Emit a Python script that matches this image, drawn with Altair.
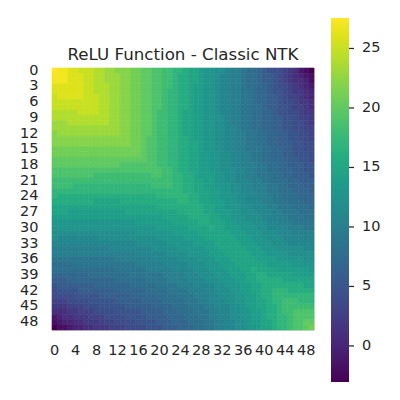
import altair as alt
import pandas as pd

# Upper triangle of the symmetric 50x50 kernel matrix.
# r_i lists the values of row i from column i to column 49.
r00 = [28,27,27,26,26,25,25,25,24,24,23,23,22,22,22,21,21,20,20,19,19,18,18,17,17,16,15,15,14,13,13,12,12,11,10,10,9,8,8,7,6,5,4,4,3,2,1,-1,-2,-3]
r01 = [27,27,26,26,26,25,25,24,24,23,23,23,22,22,21,21,20,20,19,19,18,18,17,16,16,15,15,14,13,13,12,11,11,10,10,9,8,8,7,6,6,5,4,3,2,1,0,-1,-2]
r02 = [27,26,26,26,25,25,24,24,23,23,23,22,22,21,21,20,20,19,19,18,18,17,16,16,15,15,14,13,13,12,11,11,10,10,9,8,8,7,6,6,5,4,3,2,1,1,0,-2]
r03 = [26,26,26,25,25,24,24,24,23,23,22,22,21,21,20,20,19,19,18,18,17,16,16,15,14,14,13,13,12,11,11,10,10,9,8,8,7,7,6,5,4,4,3,2,1,0,-1]
r04 = [26,26,25,25,24,24,24,23,23,22,22,21,21,20,20,19,19,18,17,17,16,16,15,14,14,13,13,12,11,11,10,10,9,9,8,7,7,6,5,5,4,3,2,2,1,0]
r05 = [26,25,25,25,24,24,23,23,22,22,21,21,20,20,19,19,18,17,17,16,16,15,14,14,13,13,12,11,11,10,10,9,9,8,7,7,6,6,5,4,3,3,2,1,0]
r06 = [25,25,25,24,24,23,23,22,22,21,21,20,20,19,19,18,17,17,16,16,15,14,14,13,13,12,11,11,10,10,9,9,8,7,7,6,6,5,4,4,3,2,2,1]
r07 = [25,25,24,24,23,23,22,22,21,21,20,20,19,19,18,17,17,16,16,15,14,14,13,13,12,11,11,10,10,9,9,8,8,7,6,6,5,5,4,3,3,2,1]
r08 = [25,24,24,23,23,22,22,21,21,20,20,19,18,18,17,17,16,15,15,14,14,13,13,12,11,11,10,10,9,9,8,8,7,7,6,5,5,4,4,3,2,2]
r09 = [24,24,23,23,22,22,21,21,20,20,19,18,18,17,17,16,15,15,14,14,13,13,12,12,11,10,10,9,9,8,8,7,7,6,6,5,5,4,3,3,2]
r10 = [24,23,23,22,22,21,21,20,20,19,18,18,17,17,16,15,15,14,14,13,13,12,12,11,10,10,9,9,8,8,7,7,6,6,5,5,4,4,3,2]
r11 = [23,23,22,22,21,21,20,20,19,18,18,17,17,16,15,15,14,14,13,13,12,12,11,11,10,9,9,8,8,7,7,6,6,5,5,4,4,3,3]
r12 = [23,22,22,21,21,20,20,19,18,18,17,17,16,15,15,14,14,13,13,12,12,11,11,10,10,9,9,8,8,7,7,6,6,5,5,4,4,3]
r13 = [22,22,21,21,20,19,19,18,18,17,17,16,16,15,14,14,13,13,12,12,11,11,10,10,9,9,8,8,7,7,6,6,5,5,4,4,3]
r14 = [22,21,21,20,19,19,18,18,17,17,16,16,15,15,14,13,13,12,12,11,11,10,10,9,9,8,8,7,7,6,6,6,5,5,4,4]
r15 = [21,21,20,19,19,18,18,17,17,16,16,15,15,14,13,13,12,12,11,11,10,10,9,9,9,8,8,7,7,6,6,5,5,4,4]
r16 = [21,20,19,19,18,18,17,17,16,16,15,15,14,14,13,13,12,12,11,11,10,10,9,9,8,8,7,7,6,6,5,5,5,4]
r17 = [20,19,19,18,18,17,17,16,16,15,15,14,14,13,13,12,12,11,11,10,10,9,9,8,8,7,7,7,6,6,5,5,4]
r18 = [19,19,18,18,17,17,16,16,15,15,14,14,13,13,12,12,11,11,10,10,10,9,9,8,8,7,7,6,6,6,5,5]
r19 = [19,19,18,18,17,16,16,15,15,14,14,13,13,12,12,12,11,11,10,10,9,9,8,8,7,7,7,6,6,5,5]
r20 = [19,18,18,17,17,16,16,15,14,14,14,13,13,12,12,11,11,10,10,9,9,9,8,8,7,7,6,6,6,5]
r21 = [18,18,17,17,16,16,15,15,14,14,13,13,12,12,11,11,11,10,10,9,9,8,8,8,7,7,6,6,6]
r22 = [18,17,17,16,16,15,15,14,14,13,13,13,12,12,11,11,10,10,10,9,9,8,8,7,7,7,6,6]
r23 = [17,17,16,16,15,15,15,14,14,13,13,12,12,11,11,11,10,10,9,9,8,8,8,7,7,7,6]
r24 = [17,17,16,16,15,15,14,14,13,13,13,12,12,11,11,10,10,10,9,9,8,8,8,7,7,7]
r25 = [17,16,16,15,15,14,14,14,13,13,12,12,11,11,11,10,10,9,9,9,8,8,8,7,7]
r26 = [16,16,16,15,15,14,14,13,13,13,12,12,11,11,11,10,10,9,9,9,8,8,8,7]
r27 = [16,16,15,15,14,14,14,13,13,12,12,12,11,11,11,10,10,9,9,9,8,8,8]
r28 = [16,16,15,15,14,14,13,13,13,12,12,12,11,11,10,10,10,9,9,9,8,8]
r29 = [16,15,15,15,14,14,13,13,13,12,12,12,11,11,10,10,10,9,9,9,9]
r30 = [16,15,15,14,14,14,13,13,13,12,12,11,11,11,11,10,10,10,9,9]
r31 = [15,15,15,14,14,14,13,13,13,12,12,12,11,11,11,10,10,10,10]
r32 = [15,15,15,14,14,14,13,13,13,12,12,12,11,11,11,11,10,10]
r33 = [15,15,15,14,14,14,13,13,13,12,12,12,11,11,11,11,11]
r34 = [15,15,15,14,14,14,13,13,13,12,12,12,12,12,11,11]
r35 = [15,15,15,14,14,14,13,13,13,13,12,12,12,12,12]
r36 = [15,15,15,14,14,14,14,13,13,13,13,13,12,12]
r37 = [15,15,15,15,14,14,14,14,14,13,13,13,13]
r38 = [16,15,15,15,15,14,14,14,14,14,14,13]
r39 = [16,16,15,15,15,15,15,14,14,14,14]
r40 = [16,16,16,16,15,15,15,15,15,15]
r41 = [16,16,16,16,16,16,16,15,15]
r42 = [17,17,17,16,16,16,16,16]
r43 = [17,17,17,17,17,17,17]
r44 = [18,18,18,17,17,17]
r45 = [18,18,18,18,18]
r46 = [19,19,19,19]
r47 = [19,19,19]
r48 = [20,20]
r49 = [21]

x_ticks = [0, 4, 8, 12, 16, 20, 24, 28, 32, 36, 40, 44, 48]
y_ticks = [0, 3, 6, 9, 12, 15, 18, 21, 24, 27, 30, 33, 36, 39, 42, 45, 48]
cbar_ticks = [0, 5, 10, 15, 20, 25]
cbar_min = -3.03
cbar_max = 27.56
title_text = "ReLU Function - Classic NTK"

upper = [r00, r01, r02, r03, r04, r05, r06, r07, r08, r09,
         r10, r11, r12, r13, r14, r15, r16, r17, r18, r19,
         r20, r21, r22, r23, r24, r25, r26, r27, r28, r29,
         r30, r31, r32, r33, r34, r35, r36, r37, r38, r39,
         r40, r41, r42, r43, r44, r45, r46, r47, r48, r49]

n = len(upper)
records = []
for i in range(n):
    for j in range(n):
        v = upper[i][j - i] if j >= i else upper[j][i - j]
        records.append({"row": i, "col": j, "value": v})
df = pd.DataFrame(records)

TXT = "#262626"
FONT = "DejaVu Sans"
FS = 14.5

cscale = alt.Scale(scheme="viridis", domain=[cbar_min, cbar_max], clamp=True)
# same colours for the seam outlines; a domain that differs by a hair keeps its
# (hidden) legend from being merged into the colour bar
sscale = alt.Scale(scheme="viridis", domain=[cbar_min - 1e-6, cbar_max], clamp=True)

x_enc = alt.X("col:O", axis=alt.Axis(values=x_ticks, labelAngle=0, ticks=False, tickSize=0,
                                     domain=False, title=None, labelFontSize=FS, labelColor=TXT,
                                     labelFont=FONT, labelPadding=13, labelOverlap=False))
y_enc = alt.Y("row:O", axis=alt.Axis(values=y_ticks, ticks=False, tickSize=0, domain=False,
                                     title=None, labelFontSize=FS, labelColor=TXT, labelFont=FONT,
                                     labelPadding=14, labelOverlap=False))

heat = alt.Chart(df).mark_rect().encode(
    x=x_enc,
    y=y_enc,
    color=alt.Color("value:Q", scale=cscale,
                    legend=alt.Legend(orient="none", legendX=279, legendY=-50,
                                      direction="vertical", gradientLength=364,
                                      gradientThickness=18, title=None, values=cbar_ticks,
                                      labelFontSize=FS, labelColor=TXT, labelFont=FONT,
                                      labelOffset=13, padding=0, type="gradient")),
)

seams = alt.Chart(df).mark_rect(filled=False, strokeWidth=0.6).encode(
    x=x_enc,
    y=y_enc,
    stroke=alt.Stroke("value:Q", scale=sscale, legend=None),
)

heat_layer = alt.layer(heat, seams)

tick_df = pd.DataFrame({"v": cbar_ticks})
cbar_tick_marks = alt.Chart(tick_df).mark_rule(color=TXT, strokeWidth=1.25).encode(
    y=alt.Y("v:Q", scale=alt.Scale(domain=[cbar_min, cbar_max], range=[314, -50],
                                   nice=False, zero=False), axis=None),
    x=alt.value(297),
    x2=alt.value(302),
)

title_df = pd.DataFrame({"t": [title_text]})
title_mark = alt.Chart(title_df).mark_text(
    font=FONT, fontSize=16.67, color=TXT, align="center", baseline="alphabetic"
).encode(
    text="t:N",
    x=alt.value(131),
    y=alt.value(-8),
)

chart = alt.layer(heat_layer, cbar_tick_marks, title_mark).resolve_scale(
    y="independent"
).properties(
    width=262,
    height=262,
    padding={"left": 44, "top": 60, "right": 78, "bottom": 60},
    autosize=alt.AutoSizeParams(type="none"),
).configure_view(strokeWidth=0).configure(font=FONT)

chart.save("out.html", embed_options={"renderer": "svg", "actions": False})
